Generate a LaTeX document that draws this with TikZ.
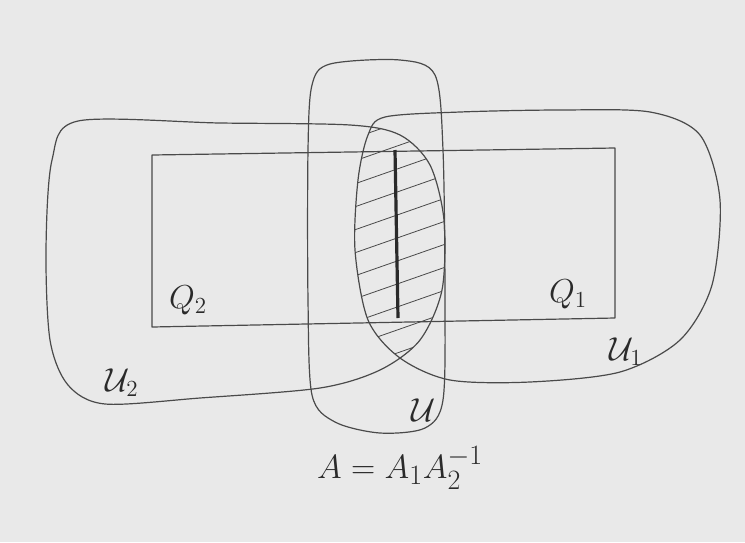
\documentclass[tikz,border=0pt]{standalone}
\usepackage{amsmath,amssymb}
\usepackage{graphicx}
\usepackage{xcolor}
\usepackage{tikz}
\usetikzlibrary{positioning,calc}
\definecolor{PaperGray}{HTML}{E9E9E9}
\definecolor{Pencil}{HTML}{4A4A4A}
\definecolor{PencilDark}{HTML}{2A2A2A}
\newcommand{\biglabel}[2]{\scalebox{#1}{$#2$}}

\begin{document}
\begin{tikzpicture}[x=1pt,y=-1pt,
    pen/.style={draw=Pencil,line width=1.2pt,line join=round},
    hatch/.style={draw=Pencil,line width=0.8pt},
    lbl/.style={text=PencilDark,font=\fontsize{20.74}{25}\selectfont,inner sep=0pt}]
  \fill[PaperGray] (0,0) rectangle (745,542);
  \useasboundingbox (0,0) rectangle (745,542);
  % hatching of U1 cap U2
  \begin{scope}
    \clip plot[smooth cycle] coordinates {(385,117) (460,112) (560,110) (650,112)
      (700,135) (720,200) (712,285) (680,340) (620,372) (530,382) (450,380)
      (400,358) (368,320) (355,250) (358,180) (368,135)};
    \clip plot[smooth cycle] coordinates {(78,121) (220,123) (350,125) (400,135)
      (430,165) (444,220) (442,290) (420,340) (380,370) (320,388) (200,398)
      (105,404) (68,385) (50,340) (46,250) (52,160)};
    \foreach \y in {120,143,...,420}
      \draw[hatch] (340,\y) -- (460,\y-42);
  \end{scope}
  % U1, U2, U
  \draw[pen] plot[smooth cycle] coordinates {(385,117) (460,112) (560,110) (650,112)
      (700,135) (720,200) (712,285) (680,340) (620,372) (530,382) (450,380)
      (400,358) (368,320) (355,250) (358,180) (368,135)};
  \draw[pen] plot[smooth cycle] coordinates {(78,121) (220,123) (350,125) (400,135)
      (430,165) (444,220) (442,290) (420,340) (380,370) (320,388) (200,398)
      (105,404) (68,385) (50,340) (46,250) (52,160)};
  \draw[pen] plot[smooth cycle] coordinates {(330,64) (400,60) (435,75) (443,150)
      (445,300) (443,400) (425,428) (380,433) (335,422) (312,395) (308,300)
      (308,150) (312,85)};
  % rectangle Q
  \draw[pen] (152,155) -- (615,148) -- (615,318) -- (152,327) -- cycle;
  \draw[PencilDark,line width=3.2pt] (395,150) -- (398,318);

  \node[lbl] (q2) at (188,300) {\biglabel{1.6}{Q_2}};
  \node[lbl] (q1) at (568,294) {\biglabel{1.6}{Q_1}};
  \node[lbl] (u2) at (122,383) {\biglabel{1.6}{\mathcal{U}_2}};
  \node[lbl] (u1) at (626,352) {\biglabel{1.6}{\mathcal{U}_1}};
  \node[lbl] (u)  at (424,410) {\biglabel{1.6}{\mathcal{U}}};
  \node[lbl,font=\fontsize{24.88}{30}\selectfont] (eq) at (400,468)
    {\biglabel{1.35}{A = A_1A_2^{-1}}};
\end{tikzpicture}
\end{document}
